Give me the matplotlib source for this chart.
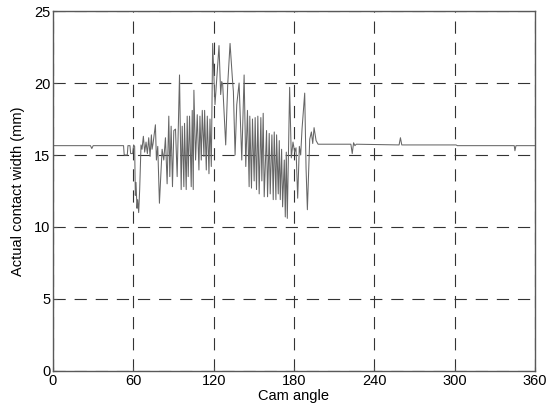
import matplotlib
matplotlib.use("Agg")
import matplotlib.pyplot as plt

plt.rcParams["font.family"] = ["Liberation Sans", "DejaVu Sans"]

# cam angle (deg) and contact width (mm)
angle = [
    0, 28, 29, 30, 52.7, 53.2, 55.5, 56, 57.5, 58, 59.5, 60.2,
    61, 61.5, 62, 62.75, 63.25, 64, 64.75, 65.75, 66.5, 67.5, 68.5, 69.5,
    70.5, 71.5, 72.5, 73.5, 74, 74.75, 76.5, 77.25, 78.25, 79.5, 81.5, 82.75,
    84, 85.25, 86.5, 87.25, 88.25, 89.25, 90.25, 91.5, 92.75, 94.5, 95.75, 96.5,
    97.75, 98.25, 99.5, 100.25, 101, 102, 103.25, 104, 104.75, 105.25, 106.5, 107.75,
    109, 109.75, 110.75, 111.5, 112.75, 113.25, 114.5, 115.25, 116.5, 117.25, 118.25, 119.25,
    121, 124, 125.25, 126, 126.75, 128, 129, 130.5, 132.25, 134, 134.75, 136,
    137.25, 139, 141, 142.75, 144, 145.25, 146.5, 147, 148.25, 149, 150.25, 151,
    152, 153, 154, 155.25, 156, 157, 157.75, 159.5, 160.25, 161.5, 162.25, 163.5,
    164.5, 165.25, 166.5, 167, 168.25, 169, 169.75, 170.75, 171.5, 172.75, 173.5, 174.25,
    175, 176.75, 178, 179.25, 180.5, 181.5, 182.75, 184, 185, 186, 188, 189,
    190, 191.75, 193, 194, 195, 196.5, 198, 222.5, 223.5, 224.5, 225.5, 226.5,
    258.5, 259.5, 260.5, 301, 302, 344.5, 345, 345.8, 360,
]
width = [
    15.65, 15.65, 15.45, 15.65, 15.65, 15.0, 15.0, 15.65, 15.65, 15.1, 15.1, 15.7,
    15.6, 12.2, 13.1, 11.3, 11.9, 11.0, 12.6, 15.7, 15.4, 16.3, 15.2, 15.9,
    15.1, 16.2, 14.9, 16.4, 15.4, 15.8, 17.1, 14.65, 15.6, 11.65, 15.4, 14.65,
    16.2, 13.0, 17.7, 13.5, 17.0, 12.8, 16.7, 16.8, 13.5, 20.56, 12.6, 17.0,
    12.8, 17.2, 12.6, 17.7, 13.5, 17.7, 12.8, 18.1, 12.6, 19.5, 14.65, 17.8,
    13.96, 17.7, 14.65, 18.1, 14.9, 18.1, 13.96, 17.7, 13.7, 17.5, 14.2, 22.75,
    18.5, 22.6, 19.2, 20.1, 19.9, 17.6, 15.7, 19.9, 22.75, 20.3, 19.4, 15.0,
    18.5, 20.0, 14.65, 20.56, 14.2, 18.1, 12.8, 17.7, 12.7, 17.5, 13.2, 17.6,
    12.6, 17.7, 12.3, 17.6, 13.2, 17.9, 12.1, 16.7, 12.1, 16.5, 12.3, 16.4,
    11.9, 16.6, 11.9, 16.4, 12.3, 16.0, 11.9, 15.4, 11.4, 14.65, 10.7, 15.2,
    10.6, 19.7, 14.8, 15.9, 15.2, 15.5, 12.0, 15.6, 15.0, 16.8, 19.3, 14.1,
    11.2, 16.1, 16.6, 15.8, 16.9, 16.0, 15.75, 15.75, 15.1, 15.85, 15.65, 15.75,
    15.7, 16.2, 15.7, 15.7, 15.65, 15.65, 15.3, 15.65, 15.65,
]

x_ticks = [0, 60, 120, 180, 240, 300, 360]
y_ticks = [0, 5, 10, 15, 20, 25]

fig = plt.figure(figsize=(5.49, 4.09), dpi=100)
ax = fig.add_axes([0.0965, 0.093, 0.878, 0.88])

ax.plot(angle, width, color="0.4", linewidth=0.75)

ax.set_xlim(0, 360)
ax.set_ylim(0, 25)
ax.set_xticks(x_ticks)
ax.set_yticks(y_ticks)
ax.tick_params(direction="in", length=3, labelsize=10.5, pad=2, color="0.3")
ax.grid(True, color="0.2", linestyle=(0, (11, 8)), linewidth=0.8)

for s in ax.spines.values():
    s.set_color("0.35")
    s.set_linewidth(1.0)

ax.set_xlabel("Cam angle", fontsize=10.5, labelpad=1)
ax.set_ylabel("Actual contact width (mm)", fontsize=10.5, labelpad=6)

fig.savefig("out.png", dpi=100)
